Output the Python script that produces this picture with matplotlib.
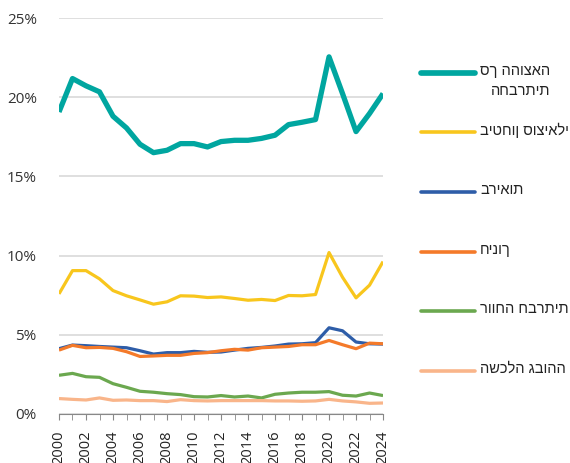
import matplotlib
matplotlib.use("Agg")
import matplotlib.pyplot as plt
from matplotlib.lines import Line2D

plt.rcParams['font.family'] = ['Open Sans', 'DejaVu Sans']

years = list(range(2000, 2025))

# share of GDP, percent
total = [19.07, 21.18, 20.72, 20.34, 18.8, 18.06, 17.03, 16.5, 16.65, 17.07, 17.07, 16.86, 17.2,
         17.28, 17.28, 17.4, 17.6, 18.27, 18.42, 18.59, 22.55, 20.23, 17.83, 18.97, 20.23]
social_security = [7.58, 9.05, 9.05, 8.53, 7.79, 7.46, 7.2, 6.93, 7.08, 7.46, 7.44, 7.35, 7.39,
                   7.29, 7.18, 7.23, 7.16, 7.48, 7.46, 7.54, 10.19, 8.63, 7.33, 8.13, 9.62]
health = [4.12, 4.35, 4.31, 4.26, 4.22, 4.18, 3.99, 3.78, 3.87, 3.87, 3.95, 3.89, 3.91,
          4.03, 4.14, 4.2, 4.29, 4.41, 4.43, 4.5, 5.44, 5.25, 4.54, 4.43, 4.41]
education = [4.03, 4.33, 4.18, 4.2, 4.14, 3.93, 3.63, 3.66, 3.7, 3.7, 3.82, 3.87, 3.99,
             4.08, 4.03, 4.18, 4.22, 4.26, 4.37, 4.37, 4.64, 4.37, 4.12, 4.47, 4.43]
welfare = [2.44, 2.56, 2.35, 2.31, 1.91, 1.68, 1.43, 1.37, 1.28, 1.22, 1.09, 1.07, 1.16,
           1.07, 1.13, 1.01, 1.24, 1.32, 1.37, 1.37, 1.41, 1.18, 1.13, 1.32, 1.16]
higher_ed = [0.97, 0.92, 0.88, 1.01, 0.86, 0.88, 0.84, 0.84, 0.78, 0.9, 0.84, 0.82, 0.84,
             0.84, 0.84, 0.84, 0.82, 0.82, 0.8, 0.82, 0.92, 0.82, 0.76, 0.67, 0.69]

labels = ["סך ההוצאה\nהחברתית", "ביטחון סוציאלי", "בריאות", "חינוך", "רווחה חברתית", "השכלה גבוהה"]
colors = ["#00A6A0", "#F8C61D", "#2E5DA8", "#F47A2A", "#6BA84F", "#F9B58A"]
widths = [3.8, 2.3, 2.3, 2.3, 2.3, 2.3]
series = [total, social_security, health, education, welfare, higher_ed]

fig = plt.figure(figsize=(5.7, 4.63), dpi=100)
ax = fig.add_axes([0.1035, 0.106, 0.5685, 0.855])

for vals, c, w in zip(series, colors, widths):
    ax.plot(years, vals, color=c, lw=w, solid_capstyle='butt', zorder=3)

ax.set_xlim(2000, 2024)
ax.set_ylim(0, 25)
ax.set_yticks(range(0, 26, 5))
ax.set_yticklabels([f"{v}%" for v in range(0, 26, 5)], fontsize=11, color="#333333")
ax.set_xticks(years, minor=True)
ax.set_xticks(years[::2])
ax.set_xticklabels([str(y) for y in years[::2]], rotation=90, fontsize=10.5, color="#222222")
ax.tick_params(axis='y', length=0, pad=16)
ax.tick_params(axis='x', which='both', length=4, color="#888888", pad=8)
ax.grid(axis='y', color="#d9d9d9", lw=1.2, zorder=0)
for side in ['left', 'right', 'top']:
    ax.spines[side].set_visible(False)
ax.spines['bottom'].set_color("#888888")

# legend on the right, drawn in figure pixels
W, H = 570, 463
ys = [73, 132, 192, 252, 311, 371]
for lab, c, w, y in zip(labels, colors, widths, ys):
    fig.add_artist(Line2D([421 / W, 475 / W], [1 - y / H, 1 - y / H], color=c,
                          lw=w + 0.3, solid_capstyle='round'))
    fig.text(480 / W, 1 - (y - 9) / H, lab, ha='left', va='top', fontsize=10.5,
             family=['Liberation Sans', 'DejaVu Sans'],
             multialignment='right', linespacing=1.55, color="#222222")

fig.savefig("out.png", dpi=100)
